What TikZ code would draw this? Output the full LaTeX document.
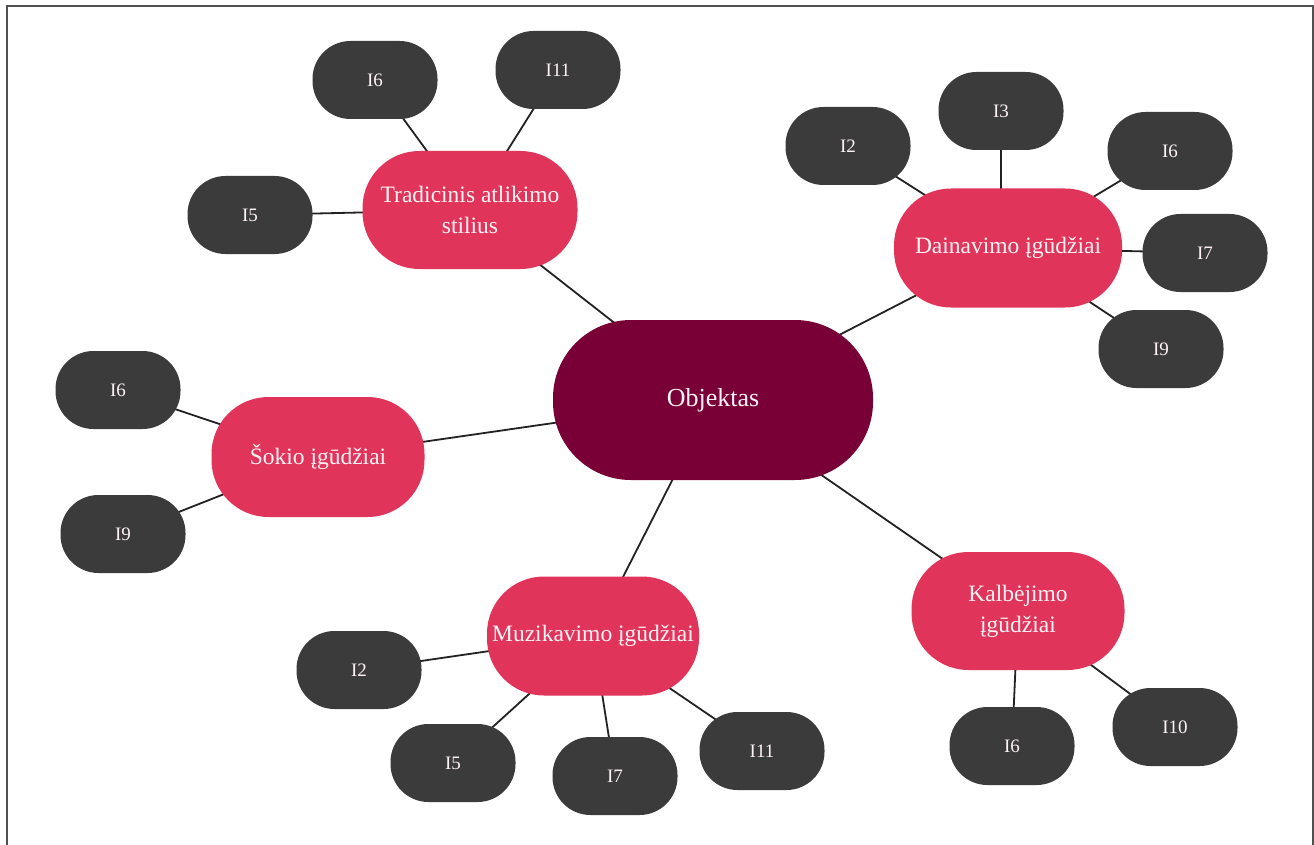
\documentclass[tikz,border=0pt]{standalone}
\usepackage{fontspec}
\setmainfont{Liberation Serif}
\usetikzlibrary{backgrounds}
\definecolor{hubcol}{HTML}{780037}
\definecolor{topiccol}{HTML}{E0345A}
\definecolor{leafcol}{HTML}{3B3B3B}
\definecolor{edgecol}{HTML}{222222}
\definecolor{framecol}{HTML}{505050}
\definecolor{txtcol}{HTML}{FFF3F6}
\tikzset{
  hub/.style={rectangle, fill=hubcol, text=txtcol, minimum width=320pt, minimum height=160pt,
    rounded corners=78pt, font=\fontsize{26}{32}\selectfont, inner sep=0pt},
  topic/.style={rectangle, fill=topiccol, text=txtcol, minimum width=214pt, minimum height=118pt,
    rounded corners=57pt, font=\fontsize{23.5}{31}\selectfont, align=center, inner sep=0pt},
  leaf/.style={rectangle, fill=leafcol, text=txtcol, minimum width=125pt, minimum height=78pt,
    rounded corners=38pt, font=\fontsize{19}{23}\selectfont, inner sep=0pt},
  link/.style={draw=edgecol, line width=1.8pt}
}
\begin{document}
\begin{tikzpicture}[x=1pt,y=-1pt]
\useasboundingbox (0,0) rectangle (1314,845);

\node[hub] (obj) at (713,400) {\raisebox{-4pt}{Objektas}};

\node[topic, minimum width=215pt] (trad) at (470,210) {Tradicinis atlikimo\\stilius};
\node[topic, minimum width=228pt, minimum height=119pt] (dain) at (1008,248) {\raisebox{-3pt}{Dainavimo įgūdžiai}};
\node[topic, minimum width=213pt, minimum height=120pt] (sok) at (318,457) {\raisebox{-2pt}{Šokio įgūdžiai}};
\node[topic, minimum width=212pt, minimum height=119pt] (muz) at (593,636) {\raisebox{-2pt}{Muzikavimo įgūdžiai}};
\node[topic, minimum width=213pt] (kal) at (1018,611) {Kalbėjimo\\įgūdžiai};

\node[leaf] (t6) at (375,80) {I6};
\node[leaf] (t11) at (558,70) {I11};
\node[leaf] (t5) at (250,215) {I5};

\node[leaf] (d2) at (848,146) {I2};
\node[leaf] (d3) at (1001,111) {I3};
\node[leaf] (d6) at (1170,151) {I6};
\node[leaf] (d7) at (1205,253) {I7};
\node[leaf] (d9) at (1161,349) {I9};

\node[leaf] (s6) at (118,390) {I6};
\node[leaf] (s9) at (123,534) {I9};

\node[leaf] (m2) at (359,670) {I2};
\node[leaf] (m5) at (453,763) {I5};
\node[leaf] (m7) at (615,776) {I7};
\node[leaf] (m11) at (762,751) {I11};

\node[leaf] (k6) at (1012,746) {I6};
\node[leaf] (k10) at (1175,727) {I10};

\begin{scope}[on background layer]
\fill[white] (0,0) rectangle (1314,845);
\draw[framecol, line width=2pt] (7,846) -- (7,6) -- (1313,6) -- (1313,846);
\draw[link] (obj.center) -- (trad.center);
\draw[link] (obj.center) -- (dain.center);
\draw[link] (obj.center) -- (sok.center);
\draw[link] (obj.center) -- (muz.center);
\draw[link] (obj.center) -- (kal.center);
\draw[link] (trad.center) -- (t6.center);
\draw[link] (trad.center) -- (t11.center);
\draw[link] (trad.center) -- (t5.center);
\draw[link] (dain.center) -- (d2.center);
\draw[link] (d3.center) -- (d3.center |- dain.center);
\draw[link] (dain.center) -- (d6.center);
\draw[link] (dain.center) -- (d7.center);
\draw[link] (dain.center) -- (d9.center);
\draw[link] (sok.center) -- (s6.center);
\draw[link] (sok.center) -- (s9.center);
\draw[link] (muz.center) -- (m2.center);
\draw[link] (muz.center) -- (m5.center);
\draw[link] (muz.center) -- (m7.center);
\draw[link] (muz.center) -- (m11.center);
\draw[link] (kal.center) -- (k6.center);
\draw[link] (kal.center) -- (k10.center);
\end{scope}
\end{tikzpicture}
\end{document}
